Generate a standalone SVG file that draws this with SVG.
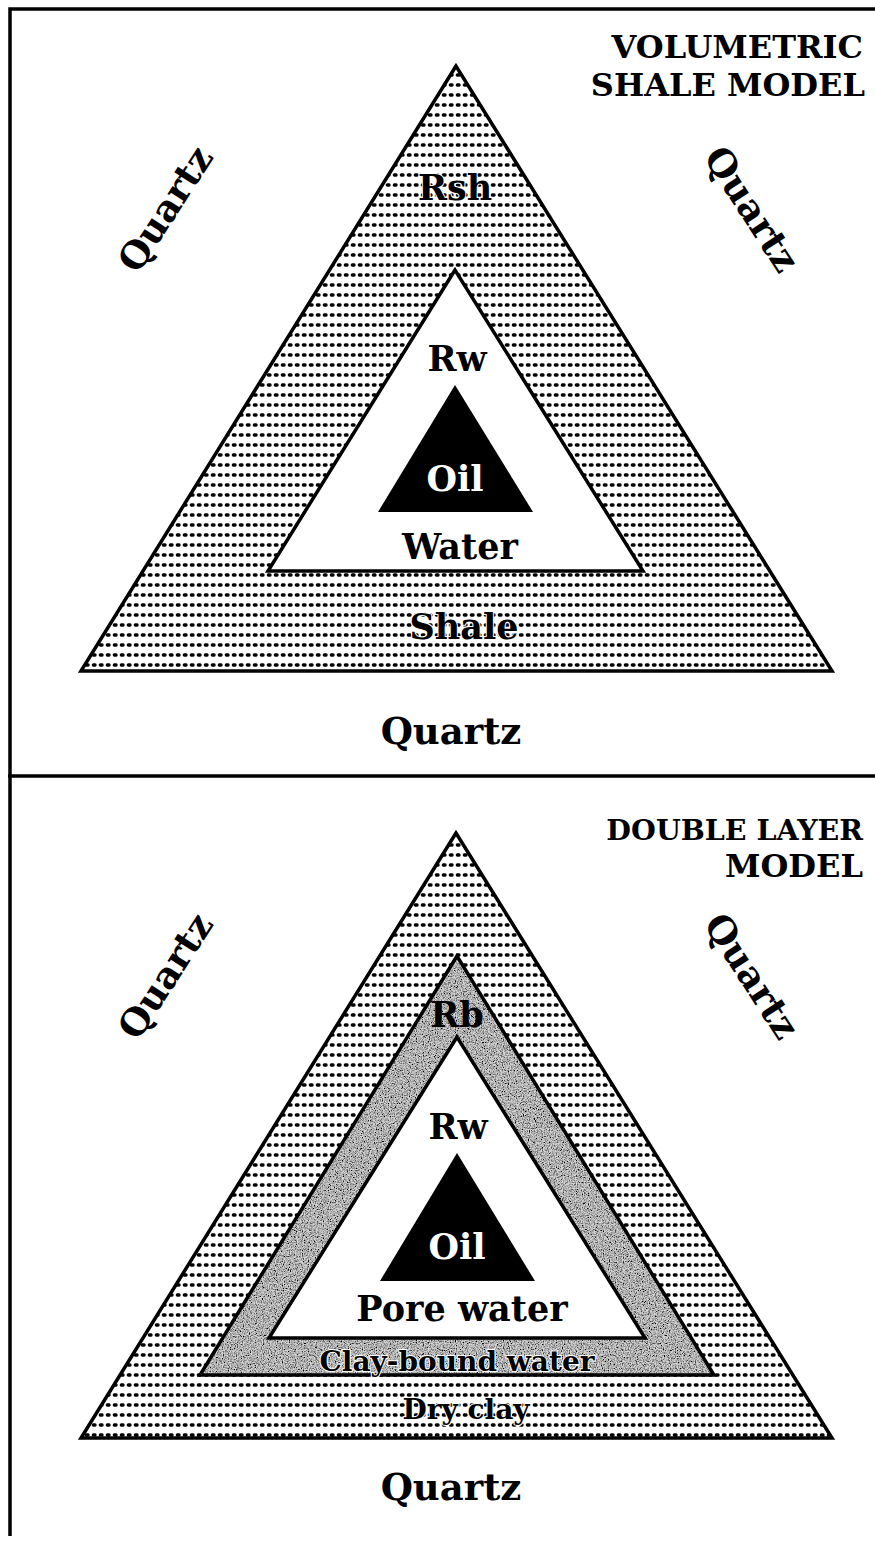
<svg xmlns="http://www.w3.org/2000/svg" width="875" height="1541" viewBox="0 0 875 1541">
<style>
.t{font-family:"DejaVu Serif","Liberation Serif",serif;font-weight:bold;fill:#000}
.lbl{font-size:35px;text-anchor:middle}
.qz{font-size:37px;text-anchor:middle}
.ttl{font-size:32px;text-anchor:end}
.ttl2{font-size:28.5px;text-anchor:end}
.halo{paint-order:stroke;stroke:#fff;stroke-width:2px}
.wht{fill:#fff}
.edge{stroke:#000;stroke-width:3.5;stroke-linejoin:miter}
.frame{stroke:#000;stroke-width:3.5;fill:none}
</style>
<defs>
<pattern id="dots" width="7" height="10" patternUnits="userSpaceOnUse">
<rect width="7" height="10" fill="#fff"/>
<rect x="0.7" y="3.3" width="5" height="3.4" rx="1.6" fill="#000"/>
</pattern>
<filter id="grain" x="0" y="0" width="100%" height="100%">
<feTurbulence type="fractalNoise" baseFrequency="0.85" numOctaves="2" seed="4" result="n"/>
<feColorMatrix in="n" type="matrix" values="0 0 0 0 0  0 0 0 0 0  0 0 0 0 0  2.6 0 0 0 -0.95" result="d"/>
<feComposite in="d" in2="SourceGraphic" operator="in" result="d2"/>
<feMerge><feMergeNode in="SourceGraphic"/><feMergeNode in="d2"/></feMerge>
</filter>
</defs>
<rect width="875" height="1541" fill="#fff"/>
<g id="frame">
<path class="frame" d="M10 1536 V9 H875"/>
<line class="frame" x1="8" y1="776" x2="875" y2="776"/>
</g>
<g id="volumetric-model">
<polygon id="top-quartz-outer" class="edge" fill="url(#dots)" points="456,66 81,671 832,671"/>
<polygon id="top-water" class="edge" fill="#fff" points="455,270 268,571 643,571"/>
<polygon id="top-oil" fill="#000" points="455,385 378,512 533,512"/>
<text class="t ttl" x="863" y="58">VOLUMETRIC</text>
<text class="t ttl" x="865" y="96">SHALE MODEL</text>
<text class="t lbl halo" x="455" y="200">Rsh</text>
<text class="t lbl" x="457" y="371">Rw</text>
<text class="t lbl wht" x="455" y="491">Oil</text>
<text class="t lbl" x="460" y="559">Water</text>
<text class="t lbl halo" x="464" y="639">Shale</text>
<text class="t qz" x="451" y="744">Quartz</text>
<text class="t qz" transform="translate(176,216) rotate(-57)">Quartz</text>
<text class="t qz" transform="translate(741,216) rotate(57)">Quartz</text>
</g>
<g id="double-layer-model">
<polygon id="bot-quartz-outer" class="edge" fill="url(#dots)" points="456,833 81,1438 832,1438"/>
<polygon id="bot-band" fill="#d6d6d6" filter="url(#grain)" points="457,956 200,1375 714,1375"/>
<polygon class="edge" fill="none" points="457,956 200,1375 714,1375"/>
<polygon id="bot-water" class="edge" fill="#fff" points="457,1037 269,1338 645,1338"/>
<polygon id="bot-oil" fill="#000" points="457,1153 380,1281 535,1281"/>
<text class="t ttl2" x="863" y="840">DOUBLE LAYER</text>
<text class="t ttl" x="863" y="877">MODEL</text>
<text class="t lbl" x="457" y="1027">Rb</text>
<text class="t lbl" x="458" y="1139">Rw</text>
<text class="t lbl wht" x="457" y="1259">Oil</text>
<text class="t lbl" x="462" y="1321">Pore water</text>
<text class="t halo" x="457" y="1371" text-anchor="middle" font-size="28">Clay-bound water</text>
<text class="t halo" x="466" y="1419" text-anchor="middle" font-size="28">Dry clay</text>
<text class="t qz" x="451" y="1500">Quartz</text>
<text class="t qz" transform="translate(176,983) rotate(-57)">Quartz</text>
<text class="t qz" transform="translate(741,983) rotate(57)">Quartz</text>
</g>
</svg>
